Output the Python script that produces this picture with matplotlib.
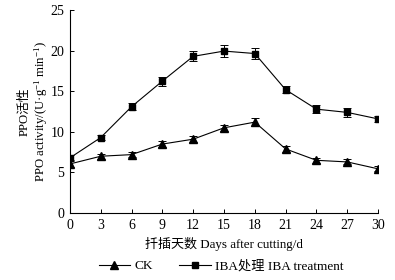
import numpy as np
import matplotlib.pyplot as plt
from matplotlib.lines import Line2D

days = [0, 3, 6, 9, 12, 15, 18, 21, 24, 27, 30]
ck = [6.05, 7.0, 7.2, 8.5, 9.1, 10.5, 11.2, 7.9, 6.5, 6.3, 5.45]
ck_err = [0.35, 0.3, 0.3, 0.35, 0.4, 0.4, 0.45, 0.4, 0.3, 0.3, 0.3]
iba = [6.8, 9.3, 13.1, 16.25, 19.3, 19.95, 19.65, 15.2, 12.8, 12.4, 11.6]
iba_err = [0.3, 0.35, 0.45, 0.55, 0.6, 0.75, 0.65, 0.45, 0.45, 0.55, 0.4]

fam = ['Liberation Serif', 'Noto Sans CJK SC']
plt.rcParams['font.family'] = fam
plt.rcParams['mathtext.fontset'] = 'custom'
plt.rcParams['mathtext.rm'] = 'Liberation Serif'
plt.rcParams['mathtext.it'] = 'Liberation Serif:italic'

fig = plt.figure(figsize=(3.95, 2.8), dpi=100)
ax = fig.add_axes([0.177, 0.239, 0.78, 0.725])

ax.errorbar(days, ck, yerr=ck_err, color='black', marker='^', markersize=5.5,
            linewidth=0.8, elinewidth=0.7, capsize=3, capthick=0.7)
ax.errorbar(days, iba, yerr=iba_err, color='black', marker='s', markersize=5,
            linewidth=0.8, elinewidth=0.7, capsize=3, capthick=0.7)

ax.set_xlim(0, 30)
ax.set_ylim(0, 25)
ax.set_xticks(days)
ax.set_yticks([0, 5, 10, 15, 20, 25])
ax.tick_params(direction='in', length=3, width=0.7, labelsize=10, pad=4)
for s in ['top', 'right']:
    ax.spines[s].set_visible(False)
for s in ['left', 'bottom']:
    ax.spines[s].set_linewidth(0.8)

ax.set_xlabel('扦插天数 Days after cutting/d', fontsize=9.4, labelpad=4)
ax.set_ylabel('PPO活性\nPPO activity/(U·g$^{-1}$ min$^{-1}$)', fontsize=9.2,
              labelpad=0, linespacing=1.15)

handles = [Line2D([], [], color='black', marker='^', markersize=5.5, linewidth=0.8),
           Line2D([], [], color='black', marker='s', markersize=5, linewidth=0.8)]
ax.legend(handles, ['CK', 'IBA处理 IBA treatment'], loc='upper center',
          bbox_to_anchor=(0.49, -0.205), ncol=2, frameon=False,
          fontsize=9.5, handlelength=2.4, columnspacing=2.0, handletextpad=0.3,
          borderaxespad=0)

fig.savefig('out.png', dpi=100)
